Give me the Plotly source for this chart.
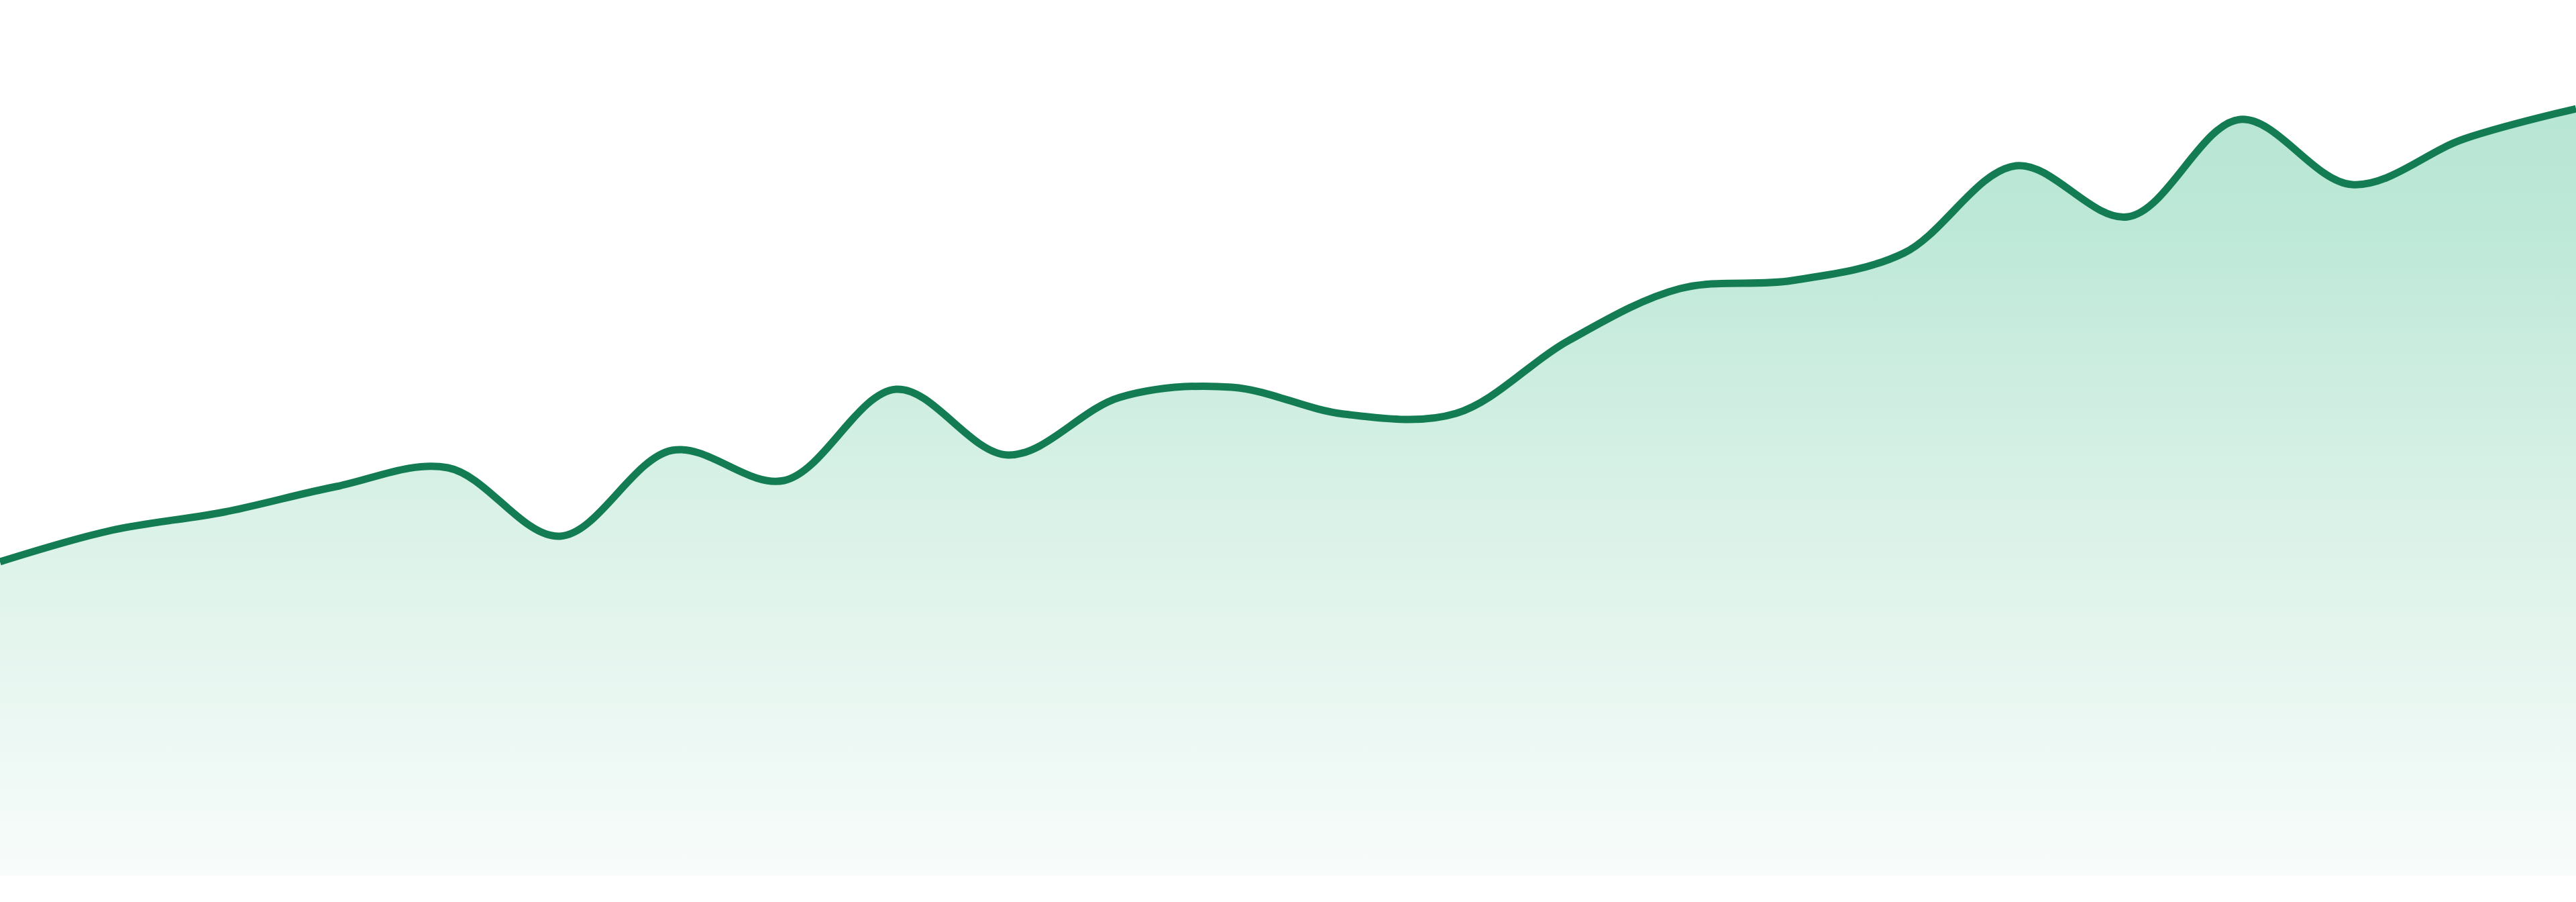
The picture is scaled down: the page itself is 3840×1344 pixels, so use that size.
import plotly.graph_objects as go

# values (hidden axes, 24 evenly spaced points)
days = list(range(24))
values = [46.8, 51.5, 54.2, 58.0, 60.8, 50.6, 63.4, 58.9, 72.5, 62.7, 71.3, 72.8,
          68.8, 68.9, 79.7, 87.5, 88.7, 92.8, 105.8, 98.2, 112.7, 103.0, 109.8, 114.3]

line_color = '#137c52'

fig = go.Figure()
fig.add_trace(go.Scatter(
    x=days, y=values, mode='lines',
    line=dict(color=line_color, width=11, shape='spline', smoothing=1),
    fill='tozeroy',
    fillgradient=dict(type='vertical',
                      colorscale=[[0, '#f8fcfb'], [0.5, '#d8f1e6'], [0.85, '#bde8d7'], [1, '#b8e6d4']]),
    hoverinfo='skip'))

fig.update_layout(
    width=3840, height=1344,
    margin=dict(l=0, r=0, t=0, b=39),
    paper_bgcolor='white', plot_bgcolor='white',
    showlegend=False,
    xaxis=dict(range=[0, 23], visible=False, fixedrange=True),
    yaxis=dict(range=[0, 130.5], visible=False, fixedrange=True),
)

# drop the default body margin so the figure sits flush in the window
fig.write_html('out.html', config={'displayModeBar': False},
               post_script="document.body.style.margin='0';document.body.style.overflow='hidden';")
